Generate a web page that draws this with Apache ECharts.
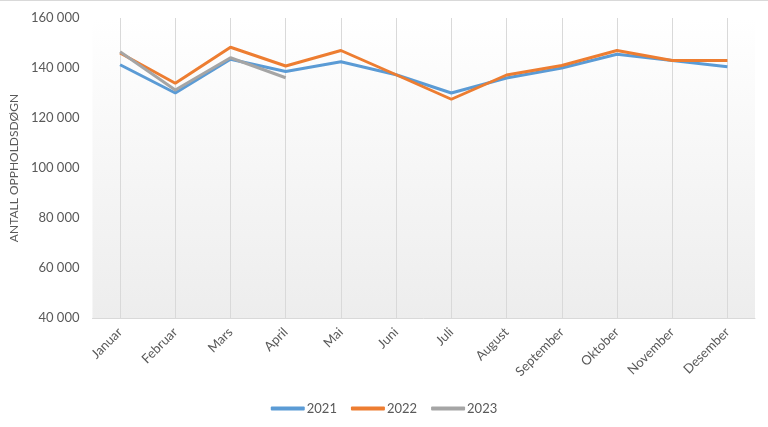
<!DOCTYPE html>
<html><head><meta charset="utf-8">
<script src="https://cdn.jsdelivr.net/npm/echarts@6/dist/echarts.min.js"></script>
<style>html,body{margin:0;padding:0;background:#fff}#c{width:768px;height:427px}</style>
</head><body><div id="c"></div>
<script>
const months = ['Januar','Februar','Mars','April','Mai','Juni','Juli','August','September','Oktober','November','Desember'];
const s2021 = [141300,130000,143500,138600,142500,137300,130000,136000,140000,145500,143000,140500];
const s2022 = [146000,133900,148300,140800,147000,137300,127500,137200,141000,147000,143000,143000];
const s2023 = [146500,131200,144100,136100];
const yTicks = [40000,60000,80000,100000,120000,140000,160000];
const fmt = v => String(v).replace(/\B(?=(\d{3})+(?!\d))/g, ' ');
const font = 'Lato, "Open Sans", sans-serif';
const chart = echarts.init(document.getElementById('c'));
chart.setOption({
  animation:false,
  color:['#5B9BD5','#ED7D31','#A5A5A5'],
  textStyle:{fontFamily:font},
  graphic:[{type:'line',shape:{x1:0,y1:0.5,x2:768,y2:0.5},style:{stroke:'#d9d9d9',lineWidth:1}}],
  grid:{left:91,right:13,top:18,bottom:109,show:true,borderWidth:0,
    backgroundColor:{type:'linear',x:0,y:0,x2:0,y2:1,colorStops:[{offset:0,color:'#ffffff'},{offset:1,color:'#ededed'}]}},
  legend:{bottom:7,left:'center',itemWidth:34,itemHeight:4,icon:'roundRect',itemGap:14,
    textStyle:{fontFamily:font,fontSize:13,color:'#595959',padding:[0,0,0,-3]},data:['2021','2022','2023']},
  xAxis:{type:'category',data:months,boundaryGap:true,
    axisLine:{lineStyle:{color:'#d9d9d9'}},axisTick:{show:false},
    splitLine:{show:true,alignWithLabel:true,lineStyle:{color:'#d9d9d9'}},
    axisLabel:{rotate:45,interval:0,margin:12,fontSize:13,color:'#595959',fontFamily:font}},
  yAxis:{type:'value',min:40000,max:160000,interval:20000,
    name:'ANTALL OPPHOLDSDØGN',nameLocation:'middle',nameGap:72,nameRotate:90,
    nameTextStyle:{fontSize:12,color:'#595959',fontFamily:font},
    axisLine:{show:false},axisTick:{show:false},splitLine:{show:false},
    axisLabel:{formatter:v=>fmt(v),fontSize:13,color:'#595959',margin:13,fontFamily:font}},
  series:[
    {name:'2021',type:'line',data:s2021,symbol:'none',lineStyle:{width:3}},
    {name:'2022',type:'line',data:s2022,symbol:'none',lineStyle:{width:3}},
    {name:'2023',type:'line',data:s2023,symbol:'none',lineStyle:{width:3}}
  ]
});
</script></body></html>
